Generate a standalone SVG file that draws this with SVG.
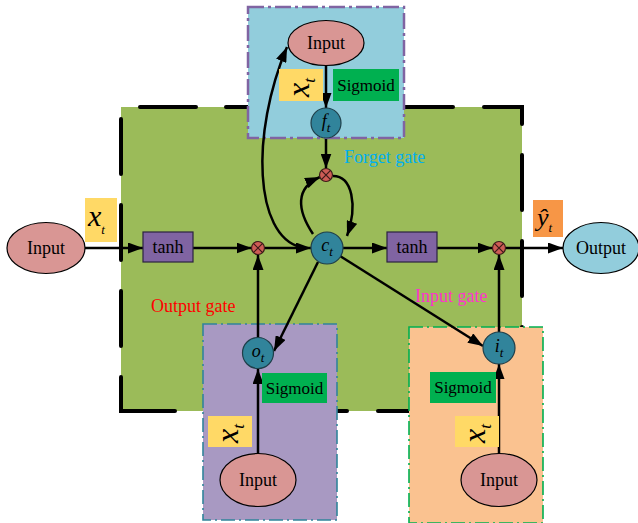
<svg xmlns="http://www.w3.org/2000/svg" width="638" height="523" viewBox="0 0 638 523">
  <defs>
    <marker id="arrow" viewBox="0 0 15 11" refX="15" refY="5.5" markerWidth="15" markerHeight="11" markerUnits="userSpaceOnUse" orient="auto">
      <path d="M0,0 L15,5.5 L0,11 z" fill="#000"/>
    </marker>
  </defs>
  <style>
    text { font-family: "Liberation Serif", "Times New Roman", serif; fill: #000; }
    .lbl { font-size: 18px; text-anchor: middle; }
    .it { font-style: italic; }
    .sub { font-size: 13px; font-style: italic; }
    .subr { font-size: 17px; font-style: italic; }
    .edge { fill: none; stroke: #000; stroke-width: 2.5; marker-end: url(#arrow); }
    .frame { fill: none; stroke: #000; stroke-width: 4; stroke-linecap: round; }
    .ellipse-in { fill: #d99694; stroke: #000; stroke-width: 1.2; }
    .ellipse-out { fill: #92cddc; stroke: #000; stroke-width: 1.2; }
    .gate { fill: #31849b; stroke: #1f3f4a; stroke-width: 1.2; }
    .mult { fill: #cd5c55; stroke: #3a1a18; stroke-width: 1.2; }
    .cross { stroke: #3a1a18; stroke-width: 1.2; }
    .tanh { fill: #8064a2; stroke: #2b2240; stroke-width: 1.2; }
    .sig { fill: #00b050; }
    .xbox { fill: #ffd966; }
    .ybox { fill: #f79646; }
    .gatelabel { font-size: 18px; }
    .xrot { font-size: 32px; }
  </style>

  <!-- LSTM cell body with long-dash frame -->
  <g id="cell">
    <rect x="121" y="107" width="401" height="304" fill="#9bbb59"/>
    <path class="frame" d="M140 107 H196 M226 107 H281 M312 107 H367 M398 107 H453 M484 107 H522 V124
      M522 155 V210 M522 241 V296 M522 327 V382
      M121 119 V174 M121 205 V260 M121 291 V346 M121 377 V411 H175
      M206 411 H261 M292 411 H347 M378 411 H433 M464 411 H519"/>
  </g>

  <!-- gate panels -->
  <g id="forget-panel">
    <rect x="248" y="7" width="156" height="131" fill="#92cddc" stroke="#8064a2" stroke-width="2.5" stroke-dasharray="16 4 3 4"/>
  </g>
  <g id="output-panel">
    <rect x="203" y="324" width="134" height="196" fill="#a899c2" stroke="#31849b" stroke-width="1.6" stroke-dasharray="14 4 2 4"/>
  </g>
  <g id="input-panel">
    <rect x="409" y="327" width="134" height="196" fill="#fac290" stroke="#00b050" stroke-width="1.6" stroke-dasharray="14 4 2 4"/>
  </g>

  <!-- labels of the gates -->
  <text class="gatelabel" x="344" y="163" style="fill:#00b0f0">Forget gate</text>
  <text class="gatelabel" x="151" y="312" style="fill:#ff0000">Output gate</text>
  <text class="gatelabel" x="415" y="302" style="fill:#ff33cc">Input gate</text>

  <!-- connectors -->
  <g id="connectors">
    <path class="edge" d="M85 248 H143"/>
    <path class="edge" d="M193 248 H251.5"/>
    <path class="edge" d="M264.5 248 H311"/>
    <path class="edge" d="M343 248 H387"/>
    <path class="edge" d="M437 248 H492.5"/>
    <path class="edge" d="M505.5 248 H563"/>
    <path class="edge" d="M326 65.5 V108"/>
    <path class="edge" d="M326 139 V168.5"/>
    <path class="edge" d="M313 234 C297 210, 295 188, 320 177"/>
    <path class="edge" d="M333 176 C352 176, 358 205, 347 236"/>
    <path class="edge" d="M300 247 C255 235, 250 135, 287 47"/>
    <path class="edge" d="M318 262 L274 351"/>
    <path class="edge" d="M340 256 L483 346"/>
    <path class="edge" d="M258 338 V255"/>
    <path class="edge" d="M499 332 V255"/>
    <path class="edge" d="M258 454 V369"/>
    <path class="edge" d="M499 453 V364"/>
  </g>

  <!-- nodes -->
  <g id="input-left">
    <ellipse class="ellipse-in" cx="46" cy="248" rx="39" ry="25.5"/>
    <text class="lbl" x="46" y="254">Input</text>
  </g>
  <g id="x-left">
    <rect class="xbox" x="85" y="198" width="32" height="44"/>
    <text x="88" y="226" font-size="30"><tspan class="it">x</tspan><tspan class="sub" font-size="16" dy="8">t</tspan></text>
  </g>
  <g id="tanh-in">
    <rect class="tanh" x="143" y="232" width="50" height="30"/>
    <text class="lbl" x="168" y="253">tanh</text>
  </g>
  <g id="mult-in">
    <circle class="mult" cx="258" cy="248" r="6.5"/>
    <path class="cross" d="M253.4 243.4 L262.6 252.6 M262.6 243.4 L253.4 252.6"/>
  </g>
  <g id="cell-state">
    <circle class="gate" cx="327" cy="248" r="16"/>
    <text class="lbl" x="327" y="251" font-size="21"><tspan class="it">c</tspan><tspan class="sub" dy="5">t</tspan></text>
  </g>
  <g id="mult-forget">
    <circle class="mult" cx="326" cy="175" r="6.5"/>
    <path class="cross" d="M321.4 170.4 L330.6 179.6 M330.6 170.4 L321.4 179.6"/>
  </g>
  <g id="tanh-out">
    <rect class="tanh" x="387" y="232" width="50" height="30"/>
    <text class="lbl" x="412" y="253">tanh</text>
  </g>
  <g id="mult-out">
    <circle class="mult" cx="499" cy="248" r="6.5"/>
    <path class="cross" d="M494.4 243.4 L503.6 252.6 M503.6 243.4 L494.4 252.6"/>
  </g>
  <g id="y-hat">
    <rect class="ybox" x="533" y="200" width="30" height="37"/>
    <text x="537" y="226" font-size="26"><tspan class="it">ŷ</tspan><tspan class="sub" font-size="15" dy="6">t</tspan></text>
  </g>
  <g id="output">
    <ellipse class="ellipse-out" cx="601" cy="248" rx="38" ry="25.5"/>
    <text class="lbl" x="601" y="254">Output</text>
  </g>

  <!-- forget gate -->
  <g id="input-forget">
    <ellipse class="ellipse-in" cx="326" cy="43" rx="38" ry="22.5"/>
    <text class="lbl" x="326" y="49">Input</text>
  </g>
  <g id="x-forget">
    <rect class="xbox" x="279" y="69" width="44" height="32"/>
    <text class="xrot" transform="translate(309 97) rotate(-90)"><tspan class="it">x</tspan><tspan class="subr" dy="6">t</tspan></text>
  </g>
  <g id="sig-forget">
    <rect class="sig" x="333" y="69" width="66" height="32"/>
    <text x="366" y="91" font-size="17" text-anchor="middle">Sigmoid</text>
  </g>
  <g id="f-gate">
    <circle class="gate" cx="326" cy="123" r="15"/>
    <text class="lbl" x="326" y="127" font-size="21"><tspan class="it">f</tspan><tspan class="sub" dy="5">t</tspan></text>
  </g>

  <!-- output gate -->
  <g id="o-gate">
    <circle class="gate" cx="258" cy="353" r="15.5"/>
    <text class="lbl" x="258" y="357" font-size="21"><tspan class="it">o</tspan><tspan class="sub" dy="5">t</tspan></text>
  </g>
  <g id="sig-output">
    <rect class="sig" x="262" y="373" width="65" height="30"/>
    <text x="294.5" y="394" font-size="17" text-anchor="middle">Sigmoid</text>
  </g>
  <g id="x-output">
    <rect class="xbox" x="208" y="416" width="44" height="31"/>
    <text class="xrot" transform="translate(238 443) rotate(-90)"><tspan class="it">x</tspan><tspan class="subr" dy="6">t</tspan></text>
  </g>
  <g id="input-output">
    <ellipse class="ellipse-in" cx="258" cy="480" rx="38" ry="26.5"/>
    <text class="lbl" x="258" y="486">Input</text>
  </g>

  <!-- input gate -->
  <g id="i-gate">
    <circle class="gate" cx="499" cy="348" r="16"/>
    <text class="lbl" x="499" y="352" font-size="21"><tspan class="it">i</tspan><tspan class="sub" dy="5">t</tspan></text>
  </g>
  <g id="sig-input">
    <rect class="sig" x="430" y="372" width="66" height="31"/>
    <text x="463" y="393" font-size="17" text-anchor="middle">Sigmoid</text>
  </g>
  <g id="x-input">
    <rect class="xbox" x="455" y="416" width="44" height="31"/>
    <text class="xrot" transform="translate(485 443) rotate(-90)"><tspan class="it">x</tspan><tspan class="subr" dy="6">t</tspan></text>
  </g>
  <g id="input-input">
    <ellipse class="ellipse-in" cx="499" cy="480" rx="38" ry="26.5"/>
    <text class="lbl" x="499" y="486">Input</text>
  </g>
</svg>
